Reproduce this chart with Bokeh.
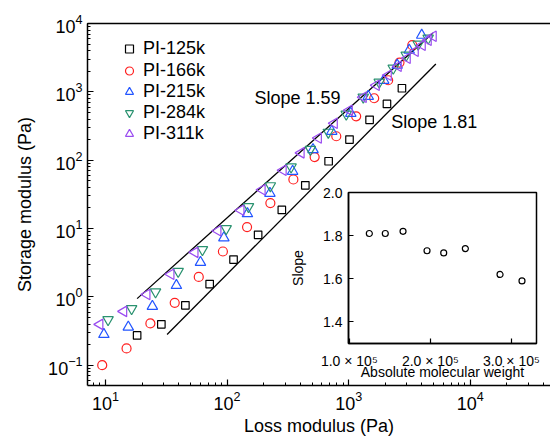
import numpy as np
from bokeh.plotting import figure
from bokeh.models import (Range1d, Legend, LegendItem, Label, FixedTicker,
                          CustomJSTickFormatter, LogAxis)
from bokeh.layouts import column
from bokeh.embed import file_html
from bokeh.resources import INLINE

FONT = "Liberation Sans"

# ---- main data: loss modulus G'' (x) and storage modulus G' (y), Pa ----
g2_125k = [18.2, 28.8, 45.4, 71.9, 113, 180, 282, 440, 684, 1016, 1486, 2065, 2742]
g1_125k = [0.273, 0.396, 0.751, 1.54, 3.51, 8.09, 18.7, 42.9, 96.4, 200, 390, 665, 1129]

g2_166k = [9.4, 14.9, 23.4, 37.1, 58.5, 92.4, 146, 227, 351, 525, 791, 1153, 1622, 2113, 2618, 3334]
g1_166k = [0.100, 0.176, 0.409, 0.817, 1.96, 4.61, 10.5, 23.6, 52.2, 111, 224, 439, 806, 1478, 2685, 4812]

g2_215k = [9.7, 15.4, 24.3, 38.3, 60.4, 94.1, 147, 225, 346, 509, 726, 1041, 1449, 1943, 2507, 3148, 3988]
g1_215k = [0.282, 0.361, 0.726, 1.47, 3.20, 7.31, 16.5, 32.8, 68.8, 143, 265, 486, 862, 1478, 2452, 4066, 6741]

g2_284k = [10.5, 16.4, 25.8, 39.6, 62.7, 98.3, 150, 227, 336, 484, 680, 955, 1318, 1784, 2326, 2974, 3731, 4508]
g1_284k = [0.464, 0.672, 1.18, 2.36, 4.91, 9.97, 20.9, 42.2, 79.5, 144, 256, 470, 834, 1382, 2216, 3434, 4977, 6093]

g2_311k = [8.98, 14.1, 21.9, 34.5, 54.4, 84.0, 130, 194, 289, 406, 563, 761, 1011, 1318, 1686,
           2115, 2556, 3030, 3526, 4025, 4508, 4956]
g1_311k = [0.396, 0.613, 1.08, 2.15, 4.48, 9.25, 18.5, 36.9, 71.1, 128, 211, 347, 538, 834, 1249,
           1750, 2370, 3105, 3930, 4812, 5694, 6518]

series_names = ["PI-125k", "PI-166k", "PI-215k", "PI-284k", "PI-311k"]

# ---- guide lines (power-law fits) ----
fit159_x = [18.2, 4930]
fit159_y = [0.942, 7280]
fit181_x = [32.1, 5212]
fit181_y = [0.2806, 2560]
slope_labels = ["Slope 1.59", "Slope 1.81"]
slope_label_x = [168, 2240]
slope_label_y = [815, 365]

# ---- inset data ----
mol_weight = [1.247e5, 1.444e5, 1.663e5, 1.959e5, 2.165e5, 2.432e5, 2.86e5, 3.131e5]
slope_vals = [1.81, 1.81, 1.82, 1.73, 1.72, 1.74, 1.62, 1.59]


def style_axis(ax, tick_font, label_font, tick_in, minor_in):
    ax.axis_line_width = 1.5
    ax.major_tick_in = tick_in
    ax.major_tick_out = 0
    ax.minor_tick_in = minor_in
    ax.minor_tick_out = 0
    ax.major_tick_line_width = 1.2
    ax.minor_tick_line_width = 1.0
    ax.major_label_text_font = FONT
    ax.major_label_text_font_size = tick_font
    ax.major_label_text_color = "black"
    ax.axis_label_text_font = FONT
    ax.axis_label_text_font_size = label_font
    ax.axis_label_text_font_style = "normal"
    ax.axis_label_text_color = "black"


# ================= main figure =================
p = figure(width=550, height=441, x_axis_type="log", y_axis_type="log",
           x_range=Range1d(10 ** 0.852, 10 ** 4.66),
           y_range=Range1d(10 ** -1.297, 1.0002e4),
           toolbar_location=None, output_backend="svg", frame_align=False,
           min_border_left=87, min_border_right=0, min_border_top=23, min_border_bottom=56)
p.grid.visible = False
p.outline_line_color = None
p.background_fill_color = "white"

xax = p.below[0]
yax = p.left[0]
style_axis(xax, "18px", "18px", 6, 3)
style_axis(yax, "18px", "18px", 6, 3)
xax.axis_label = "Loss modulus (Pa)"
yax.axis_label = "Storage modulus (Pa)"
xax.major_label_standoff = 5
yax.major_label_standoff = 5
xax.axis_label_standoff = 3
yax.axis_label_standoff = 10

top_axis = LogAxis(ticker=FixedTicker(ticks=[]), axis_line_width=1.5,
                   major_tick_in=0, major_tick_out=0, minor_tick_in=0, minor_tick_out=0,
                   major_label_text_font_size="0px", major_label_standoff=0)
p.add_layout(top_axis, "above")

# fit lines
p.line(fit159_x, fit159_y, line_color="black", line_width=1.3)
p.line(fit181_x, fit181_y, line_color="black", line_width=1.3)

colors = ["#000000", "#ff2020", "#2255ff", "#2a9270", "#9a4cf0"]
r1 = p.scatter(g2_125k, g1_125k, marker="square", size=7.5, fill_color=None,
               line_color=colors[0], line_width=1.2)
r2 = p.scatter(g2_166k, g1_166k, marker="circle", size=9, fill_color=None,
               line_color=colors[1], line_width=1.2)
r3 = p.scatter(g2_215k, g1_215k, marker="triangle", size=10.5, fill_color=None,
               line_color=colors[2], line_width=1.2)
r4 = p.scatter(g2_284k, g1_284k, marker="inverted_triangle", size=10.5, fill_color=None,
               line_color=colors[3], line_width=1.2)
r5 = p.scatter(g2_311k, g1_311k, marker="triangle", angle=np.pi / 2, size=10.5, fill_color=None,
               line_color=colors[4], line_width=1.2)

# one legend row per series, stacked at ~21 px pitch
legend_offsets = [326, 304, 283, 262, 241]
for n, r, yoff in zip(series_names, [r1, r2, r3, r4, r5], legend_offsets):
    lg = Legend(items=[LegendItem(label=n, renderers=[r])],
                location=(32, yoff), glyph_width=20, glyph_height=21, label_height=21,
                spacing=0, padding=0, margin=0, label_standoff=4,
                border_line_color=None, background_fill_alpha=0,
                label_text_font=FONT, label_text_font_size="18px",
                label_text_color="black")
    p.add_layout(lg)

for t, lx, ly in zip(slope_labels, slope_label_x, slope_label_y):
    p.add_layout(Label(x=lx, y=ly, text=t, text_font=FONT, text_font_size="18px",
                       text_baseline="middle", text_align="left", text_color="black"))

# ================= inset figure =================
ins = figure(frame_width=188, frame_height=151,
             x_range=Range1d(0.99e5, 3.31e5), y_range=Range1d(1.3, 2.0),
             toolbar_location=None, output_backend="svg", frame_align=False,
             min_border_left=95, min_border_right=10, min_border_top=12, min_border_bottom=50)
ins.grid.visible = False
ins.outline_line_color = "black"
ins.outline_line_width = 1.5
ins.background_fill_color = "white"
ins.border_fill_alpha = 0
ins.scatter(mol_weight, slope_vals, marker="circle", size=6, fill_color=None,
            line_color="black", line_width=1.2)
ixax = ins.below[0]
iyax = ins.left[0]
ixax.ticker = FixedTicker(ticks=[1e5, 2e5, 3e5])
iyax.ticker = FixedTicker(ticks=[1.4, 1.6, 1.8, 2.0])
ixax.formatter = CustomJSTickFormatter(
    code="return (tick/1e5).toFixed(1) + ' \u00d7 10\u2075';")
iyax.formatter = CustomJSTickFormatter(code="return tick.toFixed(1);")
style_axis(ixax, "14px", "14px", 5, 0)
style_axis(iyax, "14px", "14px", 5, 0)
ixax.axis_label = "Absolute molecular weight"
iyax.axis_label = "Slope"
ixax.major_label_standoff = 9
iyax.major_label_standoff = 6
ixax.axis_label_standoff = -8
iyax.axis_label_standoff = 14

ins.margin = (-261, 0, 48, 253)
p.margin = (0, 0, 0, 0)

layout = column(p, ins, spacing=0)

open("out.html", "w").write(file_html(layout, INLINE))
